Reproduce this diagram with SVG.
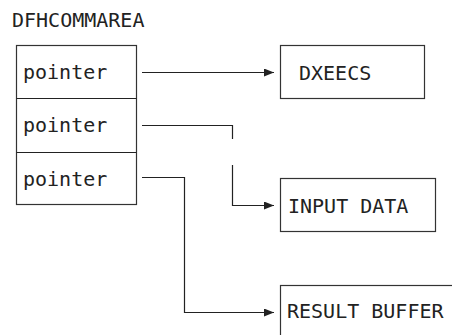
<svg xmlns="http://www.w3.org/2000/svg" width="452" height="335" viewBox="0 0 452 335">
<defs>
<marker id="arr" markerWidth="10" markerHeight="8" refX="10" refY="4" orient="auto" markerUnits="userSpaceOnUse">
<path d="M0,0 L10,4 L0,8 Z" fill="#222"/>
</marker>
<style>
text{font-family:"DejaVu Sans Mono","Liberation Mono",monospace;font-size:20px;fill:#222}
.box{fill:#fff;stroke:#333;stroke-width:1.2}
.ln{fill:none;stroke:#222;stroke-width:1.2}
</style>
</defs>
<rect width="452" height="335" fill="#fff"/>
<text x="12" y="27">DFHCOMMAREA</text>
<g id="commarea">
<rect class="box" x="16.5" y="45.5" width="120" height="159"/>
<line class="ln" x1="16.5" y1="98.5" x2="136.5" y2="98.5"/>
<line class="ln" x1="16.5" y1="152.5" x2="136.5" y2="152.5"/>
<text x="23" y="79">pointer</text>
<text x="23" y="132">pointer</text>
<text x="23" y="186">pointer</text>
</g>
<g id="dxeecs">
<rect class="box" x="280.5" y="45.5" width="144" height="53"/>
<text x="299" y="80">DXEECS</text>
</g>
<g id="input">
<rect class="box" x="280.5" y="178.5" width="155" height="53"/>
<text x="288" y="213">INPUT DATA</text>
</g>
<g id="result">
<rect class="box" x="280.5" y="285.5" width="190" height="70"/>
<text x="287" y="318">RESULT BUFFER</text>
</g>
<g id="connectors">
<path class="ln" d="M142,72.5 H274" marker-end="url(#arr)"/>
<path class="ln" d="M142,125.5 H232.5 V139"/>
<path class="ln" d="M232.5,165 V205.5 H274" marker-end="url(#arr)"/>
<path class="ln" d="M142,177.5 H184.5 V312.5 H274" marker-end="url(#arr)"/>
</g>
</svg>
